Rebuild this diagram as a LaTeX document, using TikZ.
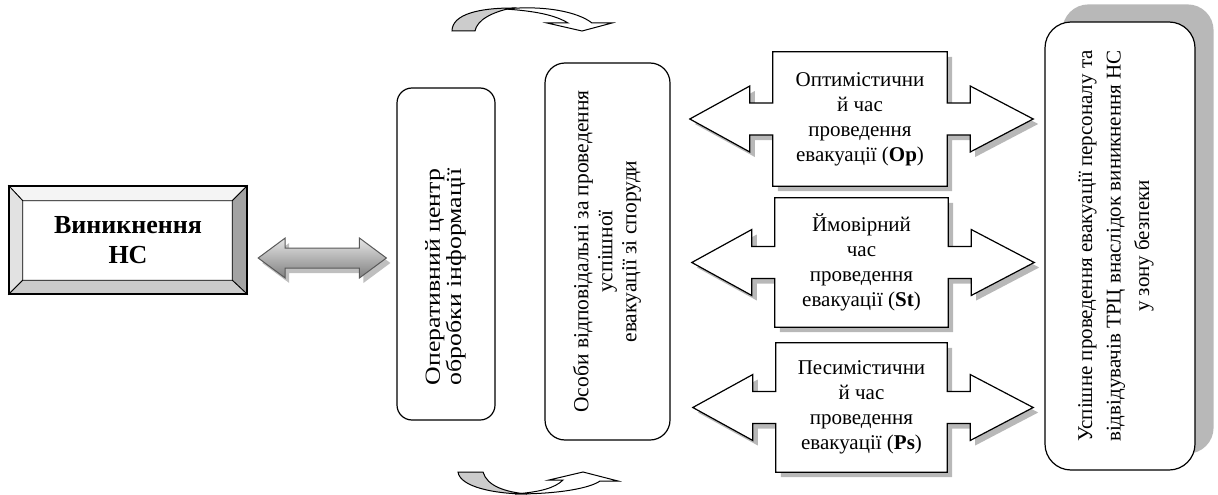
\documentclass[tikz,border=0pt]{standalone}
\usepackage{fontspec}
\setmainfont{Liberation Serif}
\newfontfamily\widefont[FakeStretch=1.2]{Liberation Serif}
\usepackage{tikz}
\usetikzlibrary{positioning, calc, backgrounds, shadows}
\definecolor{BevelTop}{HTML}{F4F4F4}
\definecolor{BevelLeft}{HTML}{E2E2E2}
\definecolor{BevelRight}{HTML}{A3A3A3}
\definecolor{BevelBottom}{HTML}{CBCBCB}
\definecolor{ShadowGray}{HTML}{B8B8B8}
\definecolor{BendGray}{HTML}{CCCCCC}

\tikzset{
  roundbox/.style={draw, line width=1.2pt, fill=white, align=center, inner sep=0pt},
  timebox/.style={align=center, inner sep=0pt, font=\fontsize{21}{25}\selectfont},
  twoway/.style={draw, line width=1.2pt, fill=white,
                 drop shadow={shadow xshift=5pt, shadow yshift=-5pt, fill=ShadowGray, opacity=1}},
  greyarrow/.style={draw=black!65, line width=1pt, top color=black!10, bottom color=black!50,
                    drop shadow={shadow xshift=4pt, shadow yshift=-5pt, fill=black!25, opacity=1}},
  curvearrow/.style={draw, line width=1pt}
}

% two-headed block arrow through a time box
\newcommand{\sidearrows}[1]{%
  \draw[twoway] ($(#1.west)+(-83,0)$) -- ($(#1.west)+(-23,-33)$) -- ($(#1.west)+(-23,-16)$)
    -- ($(#1.west)+(0,-16)$) -- (#1.north west) -- (#1.north east) -- ($(#1.east)+(0,-16)$)
    -- ($(#1.east)+(23,-16)$) -- ($(#1.east)+(23,-33)$) -- ($(#1.east)+(86,0)$)
    -- ($(#1.east)+(23,33)$) -- ($(#1.east)+(23,16)$) -- ($(#1.east)+(0,16)$)
    -- (#1.south east) -- (#1.south west) -- ($(#1.west)+(0,16)$)
    -- ($(#1.west)+(-23,16)$) -- ($(#1.west)+(-23,33)$) -- cycle;}

\begin{document}
\begin{tikzpicture}[x=1pt, y=-1pt]
    \useasboundingbox (0,0) rectangle (1218,495);

    % Emergency
    \node[minimum width=238pt, minimum height=108pt, inner sep=0pt, align=center,
          font=\bfseries\fontsize{26}{30}\selectfont] (hs) at (128,240)
          {Виникнення\\НС};
    \filldraw[BevelTop, draw=black, line width=0.8pt] (hs.north west) -- (hs.north east)
        -- ($(hs.north east)+(-15,15)$) -- ($(hs.north west)+(14,15)$) -- cycle;
    \filldraw[BevelLeft, draw=black, line width=0.8pt] (hs.north west) -- ($(hs.north west)+(14,15)$)
        -- ($(hs.south west)+(14,-14)$) -- (hs.south west) -- cycle;
    \filldraw[BevelRight, draw=black, line width=0.8pt] (hs.north east) -- ($(hs.north east)+(-15,15)$)
        -- ($(hs.south east)+(-15,-14)$) -- (hs.south east) -- cycle;
    \filldraw[BevelBottom, draw=black, line width=0.8pt] (hs.south west) -- ($(hs.south west)+(14,-14)$)
        -- ($(hs.south east)+(-15,-14)$) -- (hs.south east) -- cycle;
    \draw[line width=1.8pt] (hs.north west) rectangle (hs.south east);

    % Vertical boxes
    \node[roundbox, rounded corners=15pt, minimum width=98pt, minimum height=332pt,
          font=\widefont\fontsize{21.5}{19}\selectfont] (oc) at (446,254)
          {\rotatebox{90}{\begin{tabular}{@{}c@{}}Оперативний центр\\обробки інформації\end{tabular}\kern46pt}};
    \node[roundbox, rounded corners=20pt, minimum width=125pt, minimum height=377pt,
          font=\fontsize{21.5}{24}\selectfont] (os) at (607.5,251.5)
          {\rotatebox{90}{\begin{tabular}{@{}c@{}}Особи відповідальні за проведення\\успішної\\евакуації зі споруди\end{tabular}}};
    \node[roundbox, rounded corners=26pt, minimum width=150pt, minimum height=448pt,
          font=\fontsize{21}{28.5}\selectfont] (rb) at (1120,246)
          {\kern-10pt\rotatebox{90}{\begin{tabular}{@{}c@{}}Успішне проведення евакуації персоналу та\\відвідувачів ТРЦ внаслідок виникнення НС\\у зону безпеки\end{tabular}}};

    % Time estimates
    \node[timebox, minimum width=174pt, minimum height=134pt] (op) at (860,119)
          {Оптимістични\\й час\\проведення\\евакуації (\textbf{Op})};
    \node[timebox, minimum width=173pt, minimum height=129pt] (st) at (861.5,262.5)
          {Ймовірний\\час\\проведення\\евакуації (\textbf{St})};
    \node[timebox, minimum width=171pt, minimum height=129pt] (ps) at (861.5,407.5)
          {Песимістични\\й час\\проведення\\евакуації (\textbf{Ps})};

    \begin{scope}[on background layer]
        \fill[ShadowGray, rounded corners=26pt] ($(rb.south west)+(18,-17)$) rectangle ($(rb.north east)+(18,-17)$);
        \sidearrows{op}
        \sidearrows{st}
        \sidearrows{ps}
    \end{scope}

    % Link arrow
    \coordinate (gl) at ($(hs.east)+(11,18)$);
    \coordinate (gr) at ($(gl -| oc.west)+(-10,0)$);
    \path[greyarrow] (gl) -- ++(27,-20) -- ++(0,10) -- ($(gr)+(-27,-10)$) -- ++(0,-10) -- (gr)
        -- ++(-27,20) -- ++(0,-10) -- ($(gl)+(27,10)$) -- ++(0,10) -- cycle;

    % Curved arrows
    \filldraw[curvearrow, fill=white] (505,9) .. controls (545,5) and (578,12) .. (592,23) -- (612,23) -- (582,31)
        -- (547,23) -- (568,23) .. controls (555,15) and (535,11) .. (505,9) -- cycle;
    \filldraw[curvearrow, fill=BendGray] (452,31) .. controls (452,14) and (480,8) .. (512,8)
        .. controls (492,12) and (477,20) .. (475,31) -- cycle;
    \filldraw[curvearrow, fill=white] (515,494) .. controls (560,494) and (590,488) .. (600,481) -- (618,481)
        -- (583,472) -- (549,480) -- (563,480) .. controls (555,488) and (540,492) .. (515,494) -- cycle;
    \filldraw[curvearrow, fill=BendGray] (458,472) -- (483,472) .. controls (487,486) and (505,492) .. (527,494)
        .. controls (495,494) and (460,487) .. (458,472) -- cycle;
\end{tikzpicture}
\end{document}
